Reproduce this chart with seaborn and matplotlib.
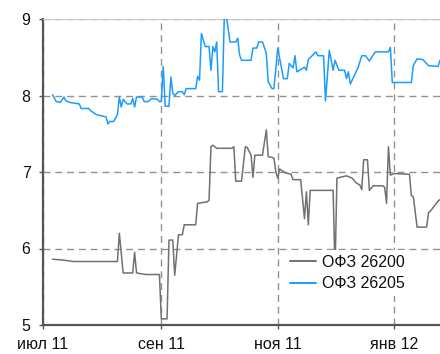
import pandas as pd
import seaborn as sns
import matplotlib
matplotlib.use('Agg')
import matplotlib.pyplot as plt

# ---- data ----
ofz26205_dates = ['2011-07-06', '2011-07-08', '2011-07-10', '2011-07-12', '2011-07-13', '2011-07-15',
                  '2011-07-20', '2011-07-21', '2011-07-25', '2011-07-26', '2011-07-29', '2011-08-03',
                  '2011-08-04', '2011-08-05', '2011-08-07', '2011-08-09', '2011-08-10', '2011-08-11',
                  '2011-08-12', '2011-08-14', '2011-08-16', '2011-08-17', '2011-08-18', '2011-08-19',
                  '2011-08-22', '2011-08-23', '2011-08-25', '2011-08-27', '2011-08-30', '2011-08-31',
                  '2011-09-01', '2011-09-02', '2011-09-03', '2011-09-05', '2011-09-06', '2011-09-07',
                  '2011-09-08', '2011-09-10', '2011-09-12', '2011-09-13', '2011-09-14', '2011-09-19',
                  '2011-09-20', '2011-09-21', '2011-09-22', '2011-09-24', '2011-09-26', '2011-09-27',
                  '2011-09-28', '2011-09-29', '2011-09-30', '2011-10-01', '2011-10-03', '2011-10-04',
                  '2011-10-05', '2011-10-07', '2011-10-10', '2011-10-11', '2011-10-12', '2011-10-13',
                  '2011-10-18', '2011-10-19', '2011-10-21', '2011-10-22', '2011-10-24', '2011-10-26',
                  '2011-10-27', '2011-10-29', '2011-10-30', '2011-11-01', '2011-11-04', '2011-11-06',
                  '2011-11-07', '2011-11-09', '2011-11-10', '2011-11-11', '2011-11-15', '2011-11-16',
                  '2011-11-17', '2011-11-21', '2011-11-22', '2011-11-25', '2011-11-26', '2011-11-28',
                  '2011-11-30', '2011-12-01', '2011-12-03', '2011-12-06', '2011-12-07', '2011-12-08',
                  '2011-12-09', '2011-12-13', '2011-12-15', '2011-12-17', '2011-12-19', '2011-12-22',
                  '2011-12-29', '2011-12-30', '2011-12-31', '2012-01-10', '2012-01-11', '2012-01-13',
                  '2012-01-16', '2012-01-19', '2012-01-24', '2012-01-25']
ofz26205_vals = [8.01, 7.92, 7.91, 7.98, 7.93, 7.91,
                 7.89, 7.83, 7.83, 7.80, 7.75, 7.72,
                 7.63, 7.66, 7.66, 7.75, 7.98, 7.85,
                 7.95, 7.89, 7.89, 7.96, 7.85, 7.98,
                 7.98, 7.92, 7.92, 7.96, 7.95, 7.92,
                 7.92, 8.38, 7.86, 7.86, 8.24, 8.03,
                 8.00, 8.05, 8.05, 8.01, 8.09, 8.09,
                 8.25, 8.20, 8.81, 8.64, 8.64, 8.33,
                 8.64, 8.57, 8.70, 8.05, 8.05, 9.05,
                 9.05, 8.70, 8.70, 8.75, 8.53, 8.46,
                 8.46, 8.62, 8.62, 8.70, 8.70, 8.55,
                 8.18, 8.09, 8.09, 8.62, 8.22, 8.22,
                 8.42, 8.36, 8.52, 8.31, 8.37, 8.33,
                 8.47, 8.57, 8.52, 8.52, 7.93, 8.59,
                 8.33, 8.46, 8.33, 8.33, 8.22, 8.31,
                 8.15, 8.36, 8.52, 8.52, 8.45, 8.57,
                 8.57, 8.63, 8.17, 8.17, 8.39, 8.48,
                 8.47, 8.39, 8.38, 8.46]

ofz26200_dates = ['2011-07-06', '2011-07-11', '2011-07-17', '2011-08-09', '2011-08-10', '2011-08-12',
                  '2011-08-17', '2011-08-18', '2011-08-19', '2011-08-24', '2011-08-31', '2011-09-01',
                  '2011-09-04', '2011-09-05', '2011-09-07', '2011-09-08', '2011-09-10', '2011-09-12',
                  '2011-09-13', '2011-09-19', '2011-09-20', '2011-09-25', '2011-09-26', '2011-09-27',
                  '2011-09-28', '2011-09-30', '2011-10-08', '2011-10-09', '2011-10-10', '2011-10-13',
                  '2011-10-15', '2011-10-16', '2011-10-18', '2011-10-19', '2011-10-20', '2011-10-24',
                  '2011-10-26', '2011-10-27', '2011-10-29', '2011-10-30', '2011-10-31', '2011-11-01',
                  '2011-11-02', '2011-11-03', '2011-11-05', '2011-11-08', '2011-11-09', '2011-11-13',
                  '2011-11-15', '2011-11-16', '2011-11-17', '2011-11-18', '2011-11-30', '2011-12-01',
                  '2011-12-02', '2011-12-07', '2011-12-10', '2011-12-12', '2011-12-14', '2011-12-15',
                  '2011-12-16', '2011-12-18', '2011-12-19', '2011-12-21', '2011-12-26', '2011-12-27',
                  '2011-12-28', '2011-12-29', '2011-12-30', '2012-01-01', '2012-01-09', '2012-01-10',
                  '2012-01-11', '2012-01-13', '2012-01-18', '2012-01-19', '2012-01-20', '2012-01-24',
                  '2012-01-25']
ofz26200_vals = [5.86, 5.85, 5.83, 5.83, 6.20, 5.68,
                 5.68, 5.95, 5.68, 5.66, 5.66, 5.08,
                 5.08, 6.11, 6.11, 5.65, 6.18, 6.18,
                 6.31, 6.31, 6.59, 6.61, 6.63, 7.33,
                 7.35, 7.31, 7.31, 7.33, 6.88, 6.88,
                 7.33, 7.32, 7.22, 6.93, 7.22, 7.22,
                 7.55, 7.20, 7.19, 7.18, 7.00, 6.92,
                 7.04, 7.02, 6.99, 6.97, 6.90, 6.90,
                 6.39, 6.74, 6.31, 6.76, 6.76, 5.70,
                 6.92, 6.95, 6.92, 6.86, 6.83, 6.77,
                 7.16, 7.16, 6.76, 6.82, 6.82, 6.80,
                 6.59, 7.33, 6.96, 6.98, 6.97, 6.69,
                 6.68, 6.28, 6.28, 6.47, 6.49, 6.62,
                 6.64]

series_names = ['ОФЗ 26200', 'ОФЗ 26205']
series_colors = ['#736f75', '#1a9cff']

tick_dates = ['2011-07-01', '2011-09-01', '2011-11-01', '2012-01-01']
tick_labels = ['июл 11', 'сен 11', 'ноя 11', 'янв 12']
y_ticks = [5, 6, 7, 8, 9]

df = pd.concat([
    pd.DataFrame({'date': pd.to_datetime(ofz26200_dates), 'yield': ofz26200_vals, 'bond': series_names[0]}),
    pd.DataFrame({'date': pd.to_datetime(ofz26205_dates), 'yield': ofz26205_vals, 'bond': series_names[1]}),
], ignore_index=True)

sns.set_style('white')
plt.rcParams['font.family'] = ['Liberation Sans', 'DejaVu Sans']

fig = plt.figure(figsize=(4.4, 3.54), dpi=100)
ax = fig.add_axes([43 / 440, 1 - 325 / 354, 397 / 440, 306 / 354])

sns.lineplot(data=df, x='date', y='yield', hue='bond', hue_order=series_names,
             palette=dict(zip(series_names, series_colors)), linewidth=1.1,
             estimator=None, sort=False, ax=ax, zorder=3)

ax.set_xlim(pd.Timestamp('2011-07-01'), pd.Timestamp('2012-01-25'))
ax.set_ylim(5, 9)
ax.set_xticks(pd.to_datetime(tick_dates))
ax.set_xticklabels(tick_labels, fontsize=11.5, color='#111111')
ax.set_yticks(y_ticks)
ax.set_yticklabels([str(v) for v in y_ticks], fontsize=11.5, color='#111111')
ax.set_xlabel('')
ax.set_ylabel('')

ax.grid(True, linestyle=(0, (5, 3.5)), color='#929292', linewidth=1.0, zorder=1)
ax.set_axisbelow(True)

for side in ['left', 'bottom']:
    ax.spines[side].set_color('#555555')
    ax.spines[side].set_linewidth(1.6)
ax.spines['right'].set_visible(False)
ax.spines['top'].set_color('#c8c8c8')
ax.spines['top'].set_linewidth(0.8)
ax.tick_params(axis='both', which='major', direction='out', length=3, width=1,
               color='#555555', bottom=True, left=True)
ax.tick_params(axis='x', pad=5.5)
ax.tick_params(axis='y', pad=6)

leg = ax.legend(loc='upper left', bbox_to_anchor=(0.611, 0.245), frameon=True,
                fancybox=False, framealpha=1, facecolor='white', edgecolor='none',
                fontsize=11.5, handlelength=1.6, handletextpad=0.35, labelspacing=0.4,
                borderpad=0.3, borderaxespad=0)
for t in leg.get_texts():
    t.set_color('#111111')
for line in leg.get_lines():
    line.set_linewidth(1.4)

fig.savefig('out.png', dpi=100)
